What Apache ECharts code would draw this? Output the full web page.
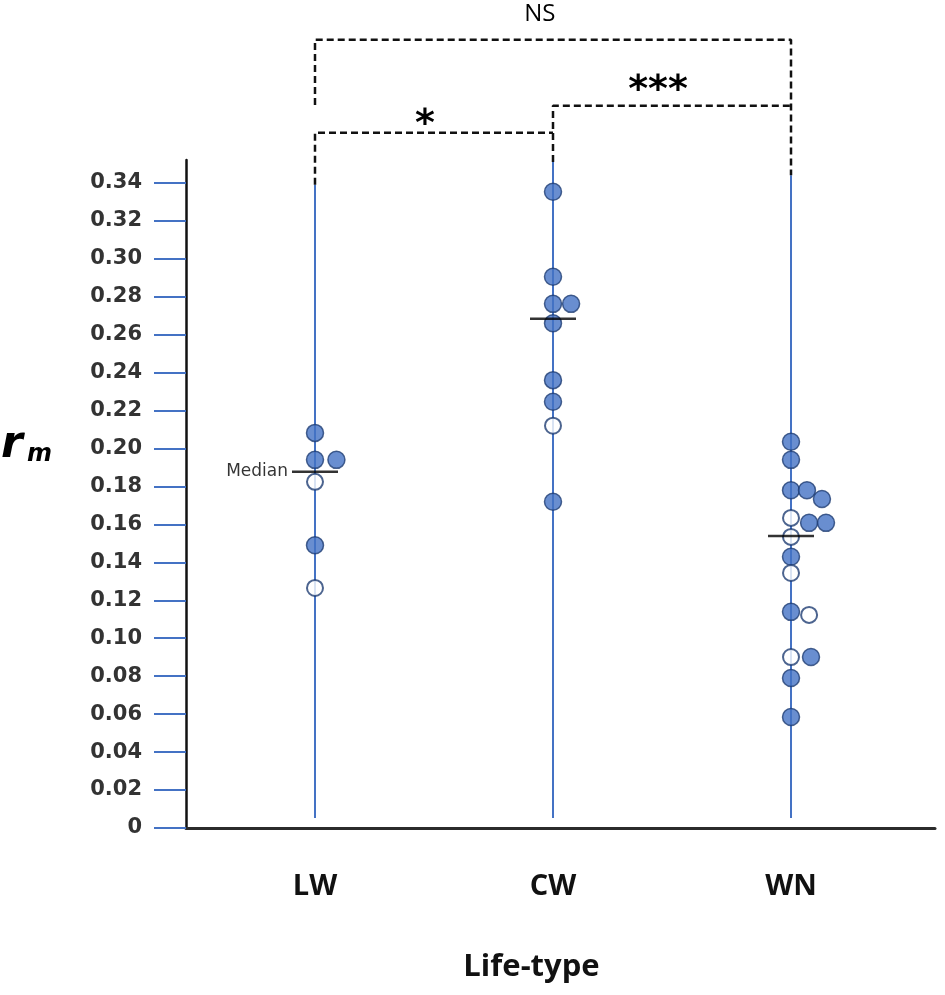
<!DOCTYPE html>
<html lang="en">
<head>
  <meta charset="UTF-8">
  <title>rm by life-type</title>
  <script src="https://cdn.jsdelivr.net/npm/echarts@6/dist/echarts.min.js"></script>
  <style>
    html, body { margin: 0; padding: 0; background: #fff; }
    #main { width: 945px; height: 995px; }
  </style>
</head>
<body>
<div id="main"></div>
<script>
  // categories and where they sit on the x scale
  var categories = ['LW', 'CW', 'WN'];
  var catPos = [1, 2, 3];

  // y tick labels
  var yTicks = [0, 0.02, 0.04, 0.06, 0.08, 0.10, 0.12, 0.14, 0.16, 0.18,
                0.20, 0.22, 0.24, 0.26, 0.28, 0.30, 0.32, 0.34];

  // rm values, sideways offset (beeswarm) and open/closed marker
  var lwValues  = [0.2082, 0.194, 0.194, 0.1824, 0.149, 0.1265];
  var lwOffsets = [0, 0, 0.09, 0, 0, 0];
  var lwHollow  = [0, 0, 0, 1, 0, 1];

  var cwValues  = [0.3353, 0.2905, 0.2762, 0.2762, 0.266, 0.236, 0.2246, 0.212, 0.1719];
  var cwOffsets = [0, 0, 0, 0.076, 0, 0, 0, 0, 0];
  var cwHollow  = [0, 0, 0, 0, 0, 0, 0, 1, 0];

  var wnValues  = [0.2035, 0.194, 0.178, 0.178, 0.1734, 0.1634, 0.1608, 0.1608, 0.1534,
                   0.1429, 0.1344, 0.1139, 0.1123, 0.0901, 0.0901, 0.079, 0.0585];
  var wnOffsets = [0, 0, 0, 0.067, 0.13, 0, 0.076, 0.147, 0,
                   0, 0, 0, 0.076, 0, 0.084, 0, 0];
  var wnHollow  = [0, 0, 0, 0, 0, 1, 0, 0, 1,
                   0, 1, 0, 1, 1, 0, 0, 0];

  var medians = [0.1877, 0.2683, 0.1539];

  // blue stems: top of each one, common bottom
  var stemTops = [0.339, 0.351, 0.344];
  var stemBottom = 0.0053;

  // significance brackets (x in category units, y in rm)
  var bracketNS   = [[1, 0.381], [1, 0.4154], [3, 0.4154], [3, 0.344]];
  var bracketStar = [[1, 0.339], [1, 0.3664], [2, 0.3664]];
  var bracket3    = [[2, 0.351], [2, 0.3806], [3, 0.3806]];
  var sigLabels = [
    {text: 'NS',  pos: [1.945, 0.4286], big: false},
    {text: '*',   pos: [1.462, 0.3705], big: true},
    {text: '***', pos: [2.441, 0.3885], big: true}
  ];

  var BLUE = '#4472c4';
  var EDGE = '#1f3d73';

  var groups = [
    {v: lwValues, o: lwOffsets, h: lwHollow},
    {v: cwValues, o: cwOffsets, h: cwHollow},
    {v: wnValues, o: wnOffsets, h: wnHollow}
  ];
  var filled = [], hollow = [];
  groups.forEach(function (g, i) {
    g.v.forEach(function (val, j) {
      var pt = [catPos[i] + g.o[j], val];
      if (g.h[j]) hollow.push(pt); else filled.push(pt);
    });
  });

  var series = [];

  // stems
  catPos.forEach(function (x, i) {
    series.push({
      type: 'line', silent: true, symbol: 'none', z: 1,
      data: [[x, stemBottom], [x, stemTops[i]]],
      lineStyle: {color: BLUE, width: 2}
    });
  });

  // brackets
  [bracketNS, bracketStar, bracket3].forEach(function (b) {
    series.push({
      type: 'line', silent: true, symbol: 'none', clip: false, z: 2,
      data: b,
      lineStyle: {color: '#111', width: 2.5, type: [7, 4]}
    });
  });

  series.push({
    type: 'scatter', name: 'filled', data: filled, symbolSize: 17, z: 3,
    itemStyle: {color: BLUE, borderColor: EDGE, borderWidth: 1.5}
  });
  series.push({
    type: 'scatter', name: 'open', data: hollow, symbolSize: 16, z: 4,
    itemStyle: {color: '#fff', borderColor: EDGE, borderWidth: 2}
  });

  // median marks
  series.push({
    type: 'scatter', silent: true, z: 5,
    symbol: 'rect', symbolSize: [46, 2.5],
    itemStyle: {color: '#000'},
    data: medians.map(function (m, i) {
      var d = {value: [catPos[i], m]};
      if (i === 0) {
        d.label = {show: true, position: 'left', distance: 4, formatter: 'Median',
                   fontFamily: 'DejaVu Sans', fontSize: 17, color: '#000',
                   textBorderWidth: 0};
      }
      return d;
    })
  });

  // significance text
  series.push({
    type: 'scatter', silent: true, clip: false, z: 6,
    symbolSize: 1, itemStyle: {color: 'transparent'},
    data: sigLabels.map(function (s) {
      return {
        value: s.pos,
        label: {
          show: true, position: 'inside', formatter: s.text,
          fontFamily: s.big ? 'DejaVu Sans' : 'Open Sans',
          fontWeight: s.big ? 'bold' : 'normal',
          fontSize: s.big ? 38 : 24,
          color: '#000', textBorderWidth: 0, opacity: 1
        }
      };
    })
  });

  var chart = echarts.init(document.getElementById('main'));
  chart.setOption({
    animation: false,
    backgroundColor: '#fff',
    grid: {left: 186, right: 10, top: 160, bottom: 167, outerBoundsMode: 'none'},
    xAxis: {
      type: 'value', min: 0.458, max: 3.605,
      splitLine: {show: false},
      axisLine: {show: true, lineStyle: {color: '#2b2b2b', width: 3}},
      axisTick: {show: false},
      axisLabel: {
        customValues: catPos,
        formatter: function (v) { return categories[catPos.indexOf(v)] || ''; },
        fontFamily: 'Open Sans', fontWeight: 'bold', fontSize: 29, color: '#111',
        margin: 44
      },
      name: 'Life-type', nameLocation: 'middle', nameGap: 124,
      nameTextStyle: {fontFamily: 'Open Sans', fontWeight: 'bold', fontSize: 31,
                      color: '#111', padding: [0, 58, 0, 0]}
    },
    yAxis: {
      type: 'value', min: 0, max: 0.352,
      splitLine: {show: false},
      axisLine: {show: true, lineStyle: {color: '#111', width: 2.5}},
      axisTick: {show: true, customValues: yTicks, length: 32,
                 lineStyle: {color: BLUE, width: 2}},
      axisLabel: {
        customValues: yTicks,
        formatter: function (v) { return v === 0 ? '0' : v.toFixed(2); },
        fontFamily: 'DejaVu Sans', fontWeight: 'bold', fontSize: 21, color: '#333',
        margin: 44
      }
    },
    graphic: [
      {type: 'text', left: 1, top: 424,
       style: {text: 'r', font: 'italic bold 44px DejaVu Sans', fill: '#000'}},
      {type: 'text', left: 27, top: 443,
       style: {text: 'm', font: 'italic bold 24px DejaVu Sans', fill: '#000'}}
    ],
    series: series
  });
</script>
</body>
</html>
